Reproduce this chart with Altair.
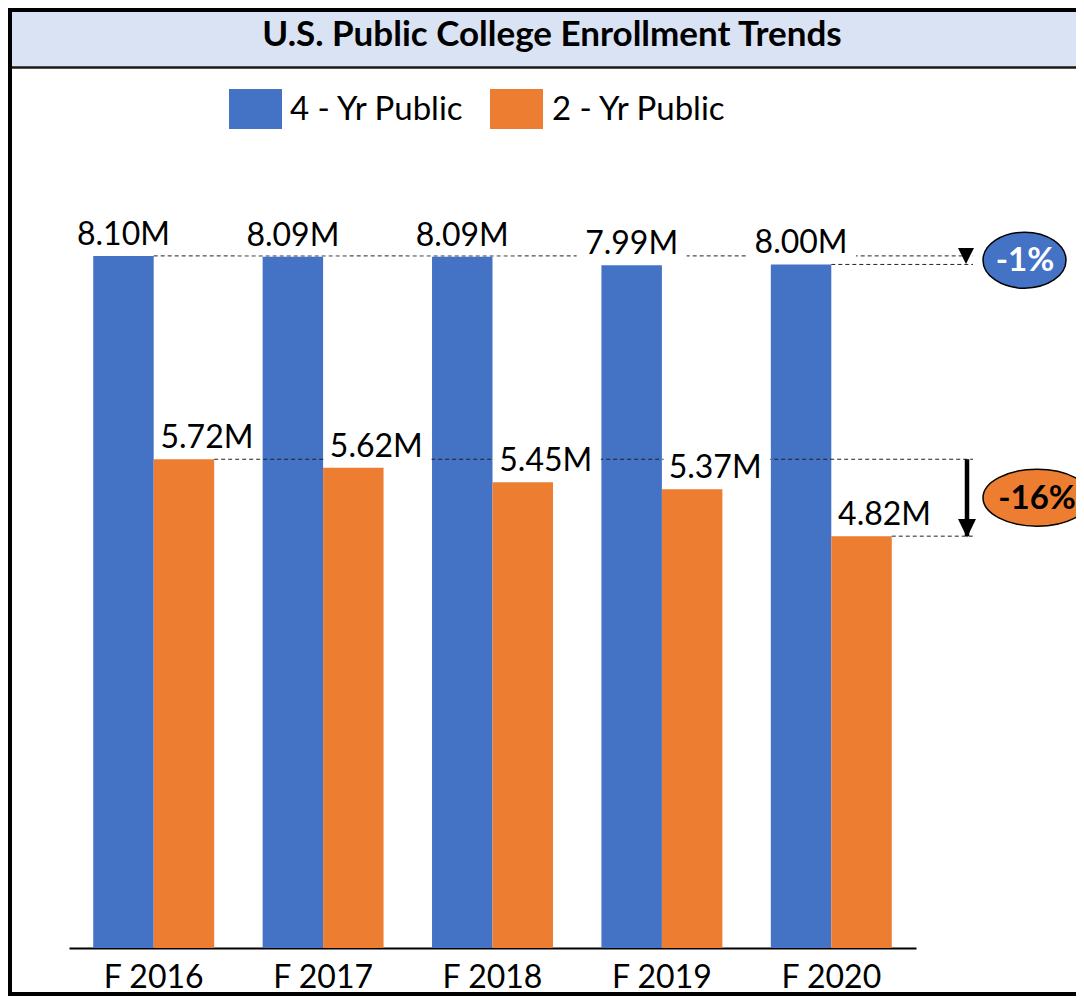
import altair as alt
import pandas as pd

# ---------------- data ----------------
years = ["F 2016", "F 2017", "F 2018", "F 2019", "F 2020"]
four_yr = [8.10, 8.09, 8.09, 7.99, 8.00]
two_yr = [5.72, 5.62, 5.45, 5.37, 4.82]
series_names = ["4 - Yr Public", "2 - Yr Public"]
colors = ["#4472c4", "#ed7d31"]
title_text = "U.S. Public College Enrollment Trends"

rows = []
for i, yr in enumerate(years):
    rows.append({"year": yr, "series": series_names[0], "value": four_yr[i]})
    rows.append({"year": yr, "series": series_names[1], "value": two_yr[i]})
df = pd.DataFrame(rows)

pct4 = round((four_yr[-1] - four_yr[0]) / four_yr[0] * 100)
pct2 = round((two_yr[-1] - two_yr[0]) / two_yr[0] * 100)

# ---------------- layout ----------------
W, H = 847, 769
PAD_L, PAD_T = 61, 171
CANVAS_W, CANVAS_H = 1068, 988
FONT = "Lato"

xscale = alt.Scale(domain=years, paddingInner=0.286, paddingOuter=0.143)
yscale = alt.Scale(domain=[0, 9])
color_scale = alt.Scale(domain=series_names, range=colors)
off_scale = alt.Scale(domain=series_names)

X = alt.X("year:N", scale=xscale, title=None, sort=years)
Y = alt.Y("value:Q", scale=yscale, axis=None)
XO = alt.XOffset("series:N", scale=off_scale, sort=series_names)

bars = alt.Chart(df).mark_bar().encode(
    x=X, xOffset=XO, y=Y,
    color=alt.Color("series:N", scale=color_scale, sort=series_names, legend=None),
)

# ---------------- manual legend ----------------
legend_sym = "M -1 -0.755 L 1 -0.755 L 1 0.755 L -1 0.755 Z"
leg_sq_x = [186.5, 447.5]
leg_tx_x = [221, 483]
leg_y = -70
legend_layers = []
for i, name in enumerate(series_names):
    ld = pd.DataFrame({"series": [name]})
    legend_layers.append(alt.Chart(ld).mark_point(
        shape=legend_sym, filled=True, opacity=1, size=2809, strokeWidth=0).encode(
        x=alt.value(leg_sq_x[i]), y=alt.value(leg_y),
        color=alt.Color("series:N", scale=color_scale, legend=None)))
    legend_layers.append(alt.Chart(ld).mark_text(
        fontSize=33, font=FONT, color="black", align="left", baseline="middle").encode(
        x=alt.value(leg_tx_x[i]), y=alt.value(leg_y + 1), text="series:N"))

# ---------------- dashed reference lines ----------------
LINE_END = 904
ref_c = pd.DataFrame({"year": [years[0], years[-1]], "value": [four_yr[0], four_yr[-1]]})
ref_e = pd.DataFrame({"year": [years[0], years[-1]], "value": [two_yr[0], two_yr[-1]]})
rules_c = alt.Chart(ref_c).mark_rule(strokeDash=[4, 3], color="#222222", strokeWidth=1).encode(
    x=X, x2=alt.value(LINE_END), y=Y)
rules_e = alt.Chart(ref_e).mark_rule(strokeDash=[4, 3], color="#222222", strokeWidth=1).encode(
    x=alt.X("year:N", scale=xscale, title=None, sort=years, bandPosition=1),
    x2=alt.value(LINE_END), y=Y)

# ---------------- label boxes + labels ----------------
box_blue = "M -1 -0.782 L 1 -0.782 L 1 -0.027 L -1 -0.027 Z"
box_orange = "M -0.52 -0.782 L 1.42 -0.782 L 1.42 -0.027 L -0.52 -0.027 Z"
boxes = alt.Chart(df).mark_point(filled=True, color="white", opacity=1, size=12100, strokeWidth=0).encode(
    x=X, xOffset=XO, y=Y,
    shape=alt.Shape("series:N", scale=alt.Scale(domain=series_names, range=[box_blue, box_orange]), legend=None),
)

lab_base = alt.Chart(df).transform_calculate(label="format(datum.value, '.2f') + 'M'")
labels_blue = lab_base.transform_filter(alt.datum.series == series_names[0]).mark_text(
    dy=-11, baseline="alphabetic", fontSize=32, font=FONT, color="black").encode(
    x=X, xOffset=XO, y=Y, text="label:N")
labels_orange = lab_base.transform_filter(alt.datum.series == series_names[1]).mark_text(
    dy=-11, dx=23, baseline="alphabetic", fontSize=32, font=FONT, color="black").encode(
    x=X, xOffset=XO, y=Y, text="label:N")

# ---------------- arrows ----------------
tri_small = "M -1 -1 L 1 -1 L 0 1 Z"
small_arrow = alt.Chart(pd.DataFrame({"value": [four_yr[0]]})).mark_point(
    shape=tri_small, filled=True, color="black", opacity=1, size=256, strokeWidth=0).encode(
    x=alt.value(897), y=Y)

big_shaft = alt.Chart(pd.DataFrame({"value": [two_yr[0]], "value2": [two_yr[-1]]})).mark_rule(
    color="black", strokeWidth=4.5).encode(x=alt.value(898), y=Y, y2="value2:Q")
tri_big = "M -1 -1.9 L 1 -1.9 L 0 0.15 Z"
big_head = alt.Chart(pd.DataFrame({"value": [two_yr[-1]]})).mark_point(
    shape=tri_big, filled=True, color="black", opacity=1, size=324, strokeWidth=0).encode(
    x=alt.value(898), y=Y)

# ---------------- badges ----------------
ell_blue = "M -1 0 A 1 0.675 0 1 1 1 0 A 1 0.675 0 1 1 -1 0 Z"
ell_orange = "M -1 0 A 1 0.528 0 1 1 1 0 A 1 0.528 0 1 1 -1 0 Z"
b_blue = pd.DataFrame({"value": [(four_yr[0] + four_yr[-1]) / 2], "label": [f"{pct4}%"]})
b_orange = pd.DataFrame({"value": [(two_yr[0] + two_yr[-1]) / 2], "label": [f"{pct2}%"]})

badge_blue = alt.Chart(b_blue).mark_point(
    shape=ell_blue, filled=True, fill=colors[0], stroke="black", strokeWidth=1.5,
    opacity=1, size=6889).encode(x=alt.value(955.5), y=Y)
badge_orange = alt.Chart(b_orange).mark_point(
    shape=ell_orange, filled=True, fill=colors[1], stroke="black", strokeWidth=1.5,
    opacity=1, size=11664).encode(x=alt.value(968), y=Y)
badge_blue_t = alt.Chart(b_blue).mark_text(
    fontSize=33, font=FONT, fontWeight="bold", color="white", baseline="middle", dy=1).encode(
    x=alt.value(956), y=Y, text="label:N")
badge_orange_t = alt.Chart(b_orange).mark_text(
    fontSize=33, font=FONT, fontWeight="bold", color="black", baseline="middle", dy=1).encode(
    x=alt.value(968), y=Y, text="label:N")

# ---------------- frame and title band ----------------
one = pd.DataFrame({"t": [title_text]})
band = alt.Chart(one).mark_rect(fill="#dae3f3").encode(
    x=alt.value(-PAD_L), x2=alt.value(CANVAS_W), y=alt.value(-PAD_T), y2=alt.value(67 - 8 - PAD_T))
band_line = alt.Chart(one).mark_rule(color="#1a1a1a", strokeWidth=2.5).encode(
    x=alt.value(-PAD_L), x2=alt.value(CANVAS_W), y=alt.value(67.5 - 8 - PAD_T))
frame_left = alt.Chart(one).mark_rule(color="black", strokeWidth=4).encode(
    x=alt.value(-PAD_L + 2), y=alt.value(-PAD_T), y2=alt.value(CANVAS_H - PAD_T))
frame_top = alt.Chart(one).mark_rule(color="black", strokeWidth=4).encode(
    x=alt.value(-PAD_L), x2=alt.value(CANVAS_W), y=alt.value(-PAD_T + 2))
frame_bottom = alt.Chart(one).mark_rule(color="black", strokeWidth=4).encode(
    x=alt.value(-PAD_L), x2=alt.value(CANVAS_W), y=alt.value(CANVAS_H - PAD_T - 2))
title = alt.Chart(one).mark_text(
    fontSize=35, font=FONT, fontWeight="bold", color="black", baseline="alphabetic", align="center").encode(
    x=alt.value(552 - 8 - PAD_L), y=alt.value(46 - 8 - PAD_T), text="t:N")

chart = alt.layer(
    band, band_line, bars, rules_c, rules_e, boxes, labels_blue, labels_orange,
    *legend_layers,
    small_arrow, big_shaft, big_head, badge_blue, badge_orange, badge_blue_t, badge_orange_t,
    title, frame_left, frame_top, frame_bottom,
).properties(
    width=W, height=H,
    autosize=alt.AutoSizeParams(type="none"),
    padding={"left": PAD_L, "top": PAD_T, "right": CANVAS_W - PAD_L - W, "bottom": CANVAS_H - PAD_T - H},
    background="white",
).configure_view(stroke=None).configure_axisX(
    labelAngle=0, ticks=False, domainColor="black", domainWidth=2, grid=False,
    labelFontSize=32, labelFont=FONT, labelColor="black", labelPadding=14,
)

chart.save("out.html", embed_options={"renderer": "svg", "actions": False})
